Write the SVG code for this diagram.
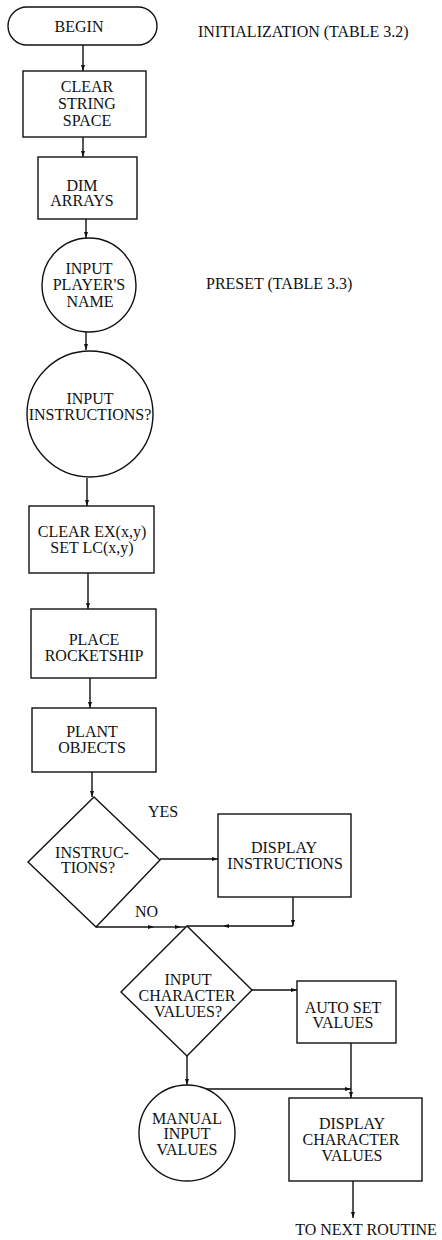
<svg xmlns="http://www.w3.org/2000/svg" width="442" height="1240" viewBox="0 0 442 1240">
  <style>
    .shape { fill: #fff; stroke: #111; stroke-width: 1.4; }
    .wire { fill: none; stroke: #111; stroke-width: 1.4; }
    .lbl { font-family: "Liberation Serif", "Times New Roman", serif; font-size: 16px; fill: #111; text-anchor: middle; }
    .note { font-family: "Liberation Serif", "Times New Roman", serif; font-size: 16px; fill: #111; }
  </style>
  <defs>
    <marker id="arrow" viewBox="0 0 6 4" refX="6" refY="2" markerWidth="6" markerHeight="4" markerUnits="userSpaceOnUse" orient="auto">
      <path d="M0,0 L6,2 L0,4 Z" fill="#111"/>
    </marker>
  </defs>
  <rect width="442" height="1240" fill="#fff"/>

  <!-- connectors -->
  <g id="connectors">
    <path class="wire" d="M83,45 V71" marker-end="url(#arrow)"/>
    <path class="wire" d="M83,137 V157" marker-end="url(#arrow)"/>
    <path class="wire" d="M86,219 V238" marker-end="url(#arrow)"/>
    <path class="wire" d="M86,332 V350" marker-end="url(#arrow)"/>
    <path class="wire" d="M87,478 V506" marker-end="url(#arrow)"/>
    <path class="wire" d="M88,573 V609" marker-end="url(#arrow)"/>
    <path class="wire" d="M90,678 V708" marker-end="url(#arrow)"/>
    <path class="wire" d="M92,772 V797" marker-end="url(#arrow)"/>
    <path class="wire" d="M160,859 H218" marker-end="url(#arrow)"/>
    <!-- NO branch joins the return from DISPLAY INSTRUCTIONS -->
    <path class="wire" d="M96,927 H154" marker-end="url(#arrow)"/>
    <path class="wire" d="M154,927 H181" marker-end="url(#arrow)"/>
    <path class="wire" d="M181,927 H187"/>
    <path class="wire" d="M293,897 V926" marker-end="url(#arrow)"/>
    <path class="wire" d="M293,926 H223" marker-end="url(#arrow)"/>
    <path class="wire" d="M223,926 H187"/>
    <path class="wire" d="M252,990 H297" marker-end="url(#arrow)"/>
    <path class="wire" d="M187,1056 V1085" marker-end="url(#arrow)"/>
    <path class="wire" d="M206,1089 H351" marker-end="url(#arrow)"/>
    <path class="wire" d="M351,1043 V1098" marker-end="url(#arrow)"/>
    <path class="wire" d="M353,1181 V1218" marker-end="url(#arrow)"/>
  </g>

  <g id="begin">
    <rect class="shape" x="8" y="7" width="149" height="38" rx="19"/>
    <text class="lbl" x="79" y="32">BEGIN</text>
  </g>
  <text id="note-init" class="note" x="198" y="37">INITIALIZATION (TABLE 3.2)</text>

  <g id="clear-string">
    <rect class="shape" x="23" y="71" width="123" height="66"/>
    <text class="lbl" x="87" y="92">CLEAR</text>
    <text class="lbl" x="87" y="109">STRING</text>
    <text class="lbl" x="87" y="126">SPACE</text>
  </g>

  <g id="dim-arrays">
    <rect class="shape" x="38" y="157" width="99" height="62"/>
    <text class="lbl" x="82" y="191">DIM</text>
    <text class="lbl" x="82" y="206">ARRAYS</text>
  </g>

  <g id="input-name">
    <circle class="shape" cx="89" cy="285" r="47"/>
    <text class="lbl" x="89" y="274">INPUT</text>
    <text class="lbl" x="89" y="290">PLAYER'S</text>
    <text class="lbl" x="90" y="307">NAME</text>
  </g>
  <text id="note-preset" class="note" x="206" y="289">PRESET (TABLE 3.3)</text>

  <g id="input-instructions">
    <circle class="shape" cx="90" cy="414" r="63"/>
    <text class="lbl" x="90" y="404">INPUT</text>
    <text class="lbl" x="90" y="420">INSTRUCTIONS?</text>
  </g>

  <g id="clear-ex">
    <rect class="shape" x="29" y="506" width="125" height="67"/>
    <text class="lbl" x="92" y="537">CLEAR EX(x,y)</text>
    <text class="lbl" x="92" y="553">SET LC(x,y)</text>
  </g>

  <g id="place-rocketship">
    <rect class="shape" x="31" y="609" width="125" height="69"/>
    <text class="lbl" x="94" y="645">PLACE</text>
    <text class="lbl" x="94" y="661">ROCKETSHIP</text>
  </g>

  <g id="plant-objects">
    <rect class="shape" x="32" y="708" width="124" height="64"/>
    <text class="lbl" x="92" y="737">PLANT</text>
    <text class="lbl" x="92" y="753">OBJECTS</text>
  </g>

  <g id="instructions-decision">
    <polygon class="shape" points="94,797 160,860 96,927 28,862"/>
    <text class="lbl" x="92" y="858">INSTRUC-</text>
    <text class="lbl" x="88" y="873">TIONS?</text>
  </g>
  <text id="label-yes" class="note" x="148" y="817">YES</text>
  <text id="label-no" class="note" x="135" y="917">NO</text>

  <g id="display-instructions">
    <rect class="shape" x="218" y="814" width="133" height="83"/>
    <text class="lbl" x="284" y="853">DISPLAY</text>
    <text class="lbl" x="285" y="869">INSTRUCTIONS</text>
  </g>

  <g id="character-decision">
    <polygon class="shape" points="187,926 252,990 187,1056 121,992"/>
    <text class="lbl" x="188" y="985">INPUT</text>
    <text class="lbl" x="187" y="1001">CHARACTER</text>
    <text class="lbl" x="188" y="1017">VALUES?</text>
  </g>

  <g id="auto-set">
    <rect class="shape" x="297" y="981" width="99" height="62"/>
    <text class="lbl" x="343" y="1013">AUTO SET</text>
    <text class="lbl" x="343" y="1028">VALUES</text>
  </g>

  <g id="manual-input">
    <circle class="shape" cx="187" cy="1133" r="48"/>
    <text class="lbl" x="187" y="1124">MANUAL</text>
    <text class="lbl" x="187" y="1139">INPUT</text>
    <text class="lbl" x="187" y="1155">VALUES</text>
  </g>

  <g id="display-character">
    <rect class="shape" x="289" y="1098" width="133" height="83"/>
    <text class="lbl" x="352" y="1129">DISPLAY</text>
    <text class="lbl" x="351" y="1145">CHARACTER</text>
    <text class="lbl" x="352" y="1161">VALUES</text>
  </g>

  <text id="label-next" class="lbl" x="366" y="1235">TO NEXT ROUTINE</text>
</svg>
